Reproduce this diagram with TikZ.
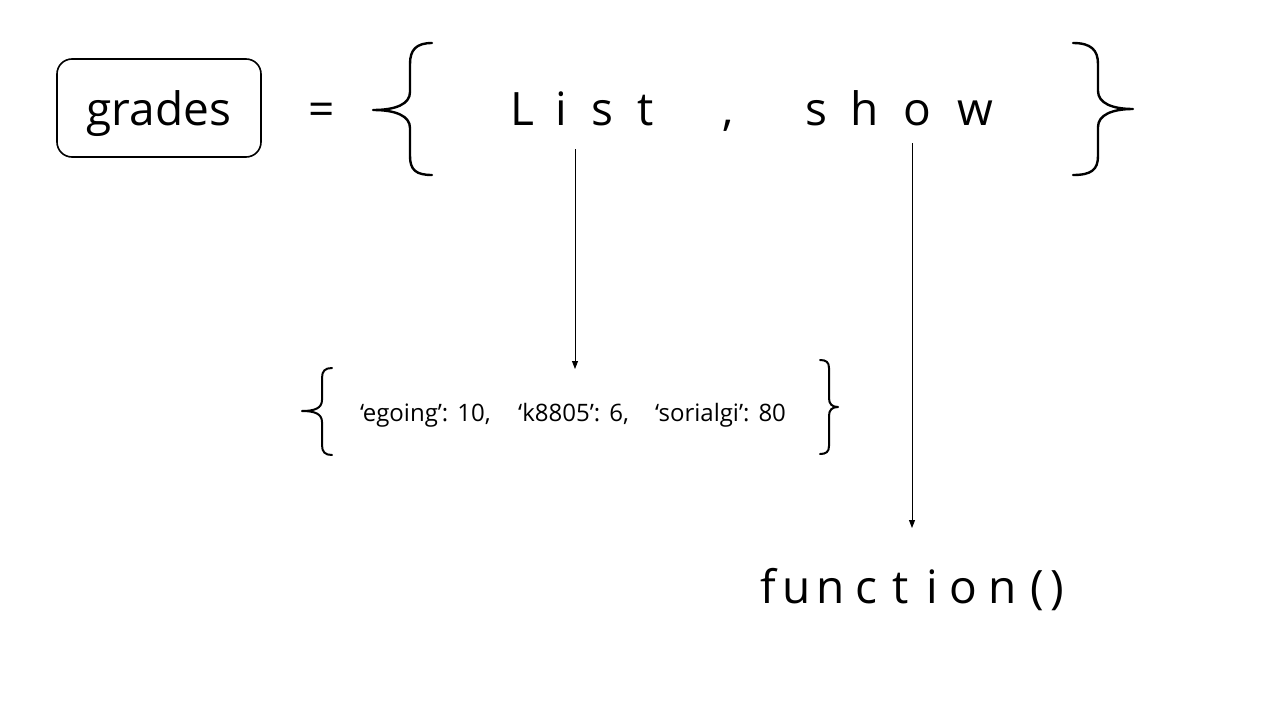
\documentclass[tikz,border=0pt]{standalone}
\usepackage{fontspec}
\setmainfont{Open Sans}
\usetikzlibrary{arrows.meta}
\newcommand\ct[1]{\makebox[0pt][c]{#1}}
\tikzset{
  bracepath/.style={line width=2.4pt, line cap=round, line join=round},
  smallbrace/.style={line width=2pt, line cap=round, line join=round},
  arrowline/.style={line width=0.9pt, -{Triangle[length=8pt,width=6pt]}},
  bigtext/.style={font=\fontsize{46}{50}\selectfont, inner sep=0pt},
  smalltext/.style={font=\fontsize{24}{28}\selectfont, inner sep=0pt},
  varbox/.style={draw, line width=1.6pt, rounded corners=15pt, minimum width=204pt, minimum height=98pt, inner sep=0pt, font=\fontsize{46}{50}\selectfont, text height=40pt, text depth=6pt}
}
\begin{document}
\begin{tikzpicture}[x=1pt,y=-1pt]
\useasboundingbox (0,0) rectangle (1280,720);
\fill[white] (0,0) rectangle (1280,720);

% variable box
\node[varbox] (grades) at (159,108) {grades};
\node[bigtext, anchor=base] (eq) at (322,125) {=};

% top braces
\draw[bracepath] (432,43) .. controls (416,43) and (410,50) .. (410,64) -- (410,92)
  .. controls (410,104) and (396,110) .. (373,110)
  .. controls (396,110) and (410,116) .. (410,128) -- (410,156)
  .. controls (410,170) and (416,175) .. (432,175);
\draw[bracepath] (1073,43) .. controls (1091,43) and (1098,50) .. (1098,64) -- (1098,91)
  .. controls (1098,103) and (1112,109) .. (1133,109)
  .. controls (1112,109) and (1098,115) .. (1098,127) -- (1098,156)
  .. controls (1098,170) and (1091,175) .. (1073,175);

% List , show
\node[bigtext, anchor=base west] (listshow) at (522,125)
 {\ct{L}\hspace{39pt}\ct{i}\hspace{41pt}\ct{s}\hspace{43pt}\ct{t}\hspace{83pt}\ct{,}\hspace{88pt}\ct{s}\hspace{48pt}\ct{h}\hspace{53pt}\ct{o}\hspace{58pt}\ct{w}};

% lower braces
\draw[smallbrace] (332,368) .. controls (325,368) and (322,371) .. (322,378) -- (322,400)
  .. controls (322,408) and (315,411) .. (302,411)
  .. controls (315,411) and (322,414) .. (322,422) -- (322,445)
  .. controls (322,452) and (325,455) .. (332,455);
\draw[smallbrace] (820,360) .. controls (826,360) and (829,362) .. (829,368) -- (829,398)
  .. controls (829,404) and (832,407) .. (838,407)
  .. controls (832,407) and (829,410) .. (829,416) -- (829,446)
  .. controls (829,452) and (826,454) .. (820,454);

% dictionary contents
\node[smalltext, anchor=base west] (dict) at (360,421)
 {\makebox[158pt][l]{`egoing':\hspace{9pt}10,}\makebox[137pt][l]{`k8805':\hspace{9pt}6,}`sorialgi':\hspace{9pt}80};

% function()
\node[bigtext, anchor=base west] (func) at (768,603)
 {\ct{f}\hspace{28pt}\ct{u}\hspace{34pt}\ct{n}\hspace{36pt}\ct{c}\hspace{34pt}\ct{t}\hspace{32pt}\ct{i}\hspace{31pt}\ct{o}\hspace{39pt}\ct{n}\hspace{35pt}\ct{(}\hspace{20pt}\ct{)}};

% arrows
\coordinate (a1s) at (575,149);
\coordinate (a1e) at (575,369);
\coordinate (a2s) at (912,143);
\coordinate (a2e) at (912,528);
\draw[arrowline] (a1s) -- (a1e);
\draw[arrowline] (a2s) -- (a2e);
\end{tikzpicture}
\end{document}
